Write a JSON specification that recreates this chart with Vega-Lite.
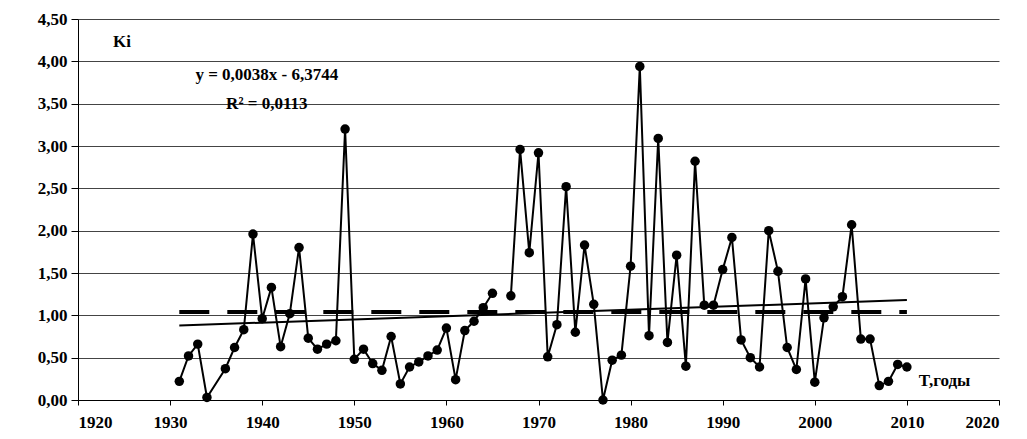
{
  "$schema": "https://vega.github.io/schema/vega-lite/v6.json",
  "width": 921,
  "height": 381,
  "autosize": "none",
  "padding": {"left": 78, "top": 19, "right": 28, "bottom": 39},
  "background": "white",
  "config": {
    "font": "Times New Roman, Liberation Serif, DejaVu Serif, serif",
    "view": {"stroke": null},
    "axis": {"labelFont": "Times New Roman, Liberation Serif, DejaVu Serif, serif", "labelFontWeight": "bold", "labelFontSize": 17, "labelColor": "#000", "domainColor": "#000", "tickColor": "#000", "title": null}
  },
  "datasets": {
    "ki": [
      {"year": 1931, "ki": 0.22}, {"year": 1932, "ki": 0.52}, {"year": 1933, "ki": 0.66}, {"year": 1934, "ki": 0.03},
      {"year": 1936, "ki": 0.37}, {"year": 1937, "ki": 0.62}, {"year": 1938, "ki": 0.83}, {"year": 1939, "ki": 1.96},
      {"year": 1940, "ki": 0.96}, {"year": 1941, "ki": 1.33}, {"year": 1942, "ki": 0.63}, {"year": 1943, "ki": 1.02},
      {"year": 1944, "ki": 1.80}, {"year": 1945, "ki": 0.73}, {"year": 1946, "ki": 0.60}, {"year": 1947, "ki": 0.66},
      {"year": 1948, "ki": 0.70}, {"year": 1949, "ki": 3.20}, {"year": 1950, "ki": 0.48}, {"year": 1951, "ki": 0.60},
      {"year": 1952, "ki": 0.43}, {"year": 1953, "ki": 0.35}, {"year": 1954, "ki": 0.75}, {"year": 1955, "ki": 0.19},
      {"year": 1956, "ki": 0.39}, {"year": 1957, "ki": 0.45}, {"year": 1958, "ki": 0.52}, {"year": 1959, "ki": 0.59},
      {"year": 1960, "ki": 0.85}, {"year": 1961, "ki": 0.24}, {"year": 1962, "ki": 0.82}, {"year": 1963, "ki": 0.93},
      {"year": 1964, "ki": 1.09}, {"year": 1965, "ki": 1.26}, {"year": 1966, "ki": null}, {"year": 1967, "ki": 1.23},
      {"year": 1968, "ki": 2.96}, {"year": 1969, "ki": 1.74}, {"year": 1970, "ki": 2.92}, {"year": 1971, "ki": 0.51},
      {"year": 1972, "ki": 0.89}, {"year": 1973, "ki": 2.52}, {"year": 1974, "ki": 0.80}, {"year": 1975, "ki": 1.83},
      {"year": 1976, "ki": 1.13}, {"year": 1977, "ki": 0.00}, {"year": 1978, "ki": 0.47}, {"year": 1979, "ki": 0.53},
      {"year": 1980, "ki": 1.58}, {"year": 1981, "ki": 3.94}, {"year": 1982, "ki": 0.76}, {"year": 1983, "ki": 3.09},
      {"year": 1984, "ki": 0.68}, {"year": 1985, "ki": 1.71}, {"year": 1986, "ki": 0.40}, {"year": 1987, "ki": 2.82},
      {"year": 1988, "ki": 1.12}, {"year": 1989, "ki": 1.12}, {"year": 1990, "ki": 1.54}, {"year": 1991, "ki": 1.92},
      {"year": 1992, "ki": 0.71}, {"year": 1993, "ki": 0.50}, {"year": 1994, "ki": 0.39}, {"year": 1995, "ki": 2.00},
      {"year": 1996, "ki": 1.52}, {"year": 1997, "ki": 0.62}, {"year": 1998, "ki": 0.36}, {"year": 1999, "ki": 1.43},
      {"year": 2000, "ki": 0.21}, {"year": 2001, "ki": 0.97}, {"year": 2002, "ki": 1.10}, {"year": 2003, "ki": 1.22},
      {"year": 2004, "ki": 2.07}, {"year": 2005, "ki": 0.72}, {"year": 2006, "ki": 0.72}, {"year": 2007, "ki": 0.17},
      {"year": 2008, "ki": 0.22}, {"year": 2009, "ki": 0.42}, {"year": 2010, "ki": 0.39}
    ],
    "trend": [{"year": 1931, "ki": 0.88}, {"year": 2010, "ki": 1.18}],
    "mean": [{"year": 1931, "ki": 1.04}, {"year": 2010, "ki": 1.04}],
    "labels": [
      {"year": 1923.8, "ki": 4.23, "text": "Ki", "align": "left"},
      {"year": 1940.5, "ki": 3.84, "text": "y = 0,0038x - 6,3744", "align": "center"},
      {"year": 1940.5, "ki": 3.5, "text": "R² = 0,0113", "align": "center"},
      {"year": 2011.3, "ki": 0.22, "text": "T,годы", "align": "left"}
    ]
  },
  "encoding": {
    "x": {"field": "year", "type": "quantitative", "scale": {"domain": [1920, 2020]},
      "axis": {"values": [1920,1930,1940,1950,1960,1970,1980,1990,2000,2010,2020], "format": "d", "grid": false, "tickSize": 5, "labelPadding": 9}},
    "y": {"field": "ki", "type": "quantitative", "scale": {"domain": [0, 4.5]},
      "axis": {"values": [0,0.5,1,1.5,2,2.5,3,3.5,4,4.5], "labelExpr": "replace(format(datum.value, '.2f'), '.', ',')", "grid": true, "gridColor": "#444", "gridWidth": 1, "tickSize": 7, "labelPadding": 4}}
  },
  "layer": [
    {"data": {"name": "mean"}, "mark": {"type": "line", "color": "#000", "strokeWidth": 4, "strokeDash": [30, 18]}},
    {"data": {"name": "trend"}, "mark": {"type": "line", "color": "#000", "strokeWidth": 2}},
    {"data": {"name": "ki"}, "mark": {"type": "line", "color": "#000", "strokeWidth": 2, "invalid": "break-paths-show-path-domains"}},
    {"data": {"name": "ki"}, "mark": {"type": "point", "filled": true, "color": "#000", "size": 90, "opacity": 1}},
    {"data": {"name": "labels"}, "mark": {"type": "text", "fontWeight": "bold", "fontSize": 17, "color": "#000", "baseline": "middle", "align": {"expr": "datum.align"}},
      "encoding": {"text": {"field": "text"}}}
  ]
}
